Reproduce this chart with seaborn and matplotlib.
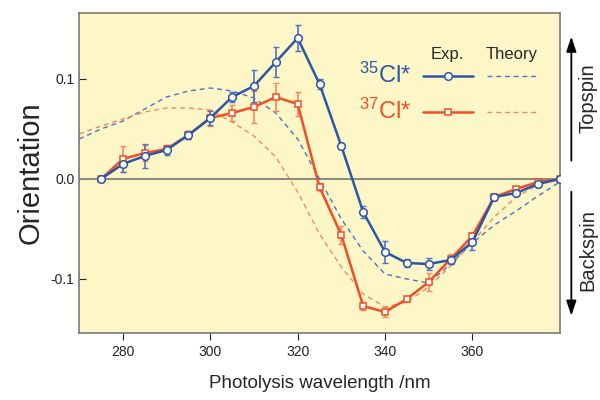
import numpy as np
import pandas as pd
import seaborn as sns
import matplotlib
matplotlib.use("Agg")
import matplotlib.pyplot as plt

# experimental wavelengths (nm)
wl_exp = [275, 280, 285, 290, 295, 300, 305, 310, 315, 320, 325, 330, 335,
          340, 345, 350, 355, 360, 365, 370, 375, 380]

# 35Cl* orientation and error
cl35 = [0.0, 0.015, 0.023, 0.029, 0.044, 0.061, 0.082, 0.093, 0.117, 0.141, 0.095, 0.033,
        -0.033, -0.073, -0.084, -0.085, -0.081, -0.063, -0.018, -0.014, -0.005, 0.0]
cl35_err = [0.0, 0.008, 0.012, 0.005, 0.004, 0.007, 0.005, 0.016, 0.015, 0.013, 0.005, 0.003,
            0.006, 0.011, 0.004, 0.006, 0.004, 0.008, 0.003, 0.002, 0.003, 0.0]

# 37Cl* orientation and error
cl37 = [0.0, 0.020, 0.026, 0.030, 0.044, 0.061, 0.066, 0.072, 0.082, 0.075, -0.008, -0.056,
        -0.127, -0.133, -0.120, -0.103, -0.080, -0.057, -0.018, -0.010, -0.003, 0.0]
cl37_err = [0.0, 0.013, 0.008, 0.004, 0.004, 0.008, 0.008, 0.016, 0.014, 0.012, 0.004, 0.009,
            0.004, 0.005, 0.003, 0.009, 0.005, 0.004, 0.003, 0.002, 0.002, 0.0]

# theory curves
wl_th = [270, 275, 280, 285, 290, 295, 300, 305, 310, 315, 320, 325, 330, 335,
         340, 345, 350, 355, 360, 365, 370, 375, 380]
th35 = [0.040, 0.050, 0.058, 0.070, 0.082, 0.088, 0.091, 0.088, 0.081, 0.066, 0.040, 0.000,
        -0.040, -0.072, -0.095, -0.100, -0.104, -0.085, -0.064, -0.046, -0.032, -0.017, -0.003]
th37 = [0.045, 0.053, 0.060, 0.067, 0.071, 0.071, 0.069, 0.057, 0.043, 0.022, -0.013, -0.055,
        -0.088, -0.115, -0.128, -0.123, -0.108, -0.087, -0.063, -0.038, -0.018, -0.006, 0.0]

blue = "#2c56a8"
red = "#f04f26"
blue_th = "#4f72c4"
red_th = "#f7875f"
dash = (0, (3.5, 2.8))

sns.set_style("ticks")
plt.rcParams['font.family'] = ['Liberation Sans', 'DejaVu Sans']
plt.rcParams['mathtext.default'] = 'regular'

exp = pd.DataFrame({'wl': wl_exp, 'cl35': cl35, 'cl37': cl37})
th = pd.DataFrame({'wl': wl_th, 'th35': th35, 'th37': th37})

fig = plt.figure(figsize=(6, 4), dpi=100)
ax = fig.add_axes([0.132, 0.1675, 0.801, 0.80])
ax.set_facecolor("#fdf6c6")

ax.axhline(0, color="#8a8a78", lw=1.4, zorder=1)

sns.lineplot(data=th, x='wl', y='th35', ax=ax, color=blue_th, lw=1.0, zorder=2)
sns.lineplot(data=th, x='wl', y='th37', ax=ax, color=red_th, lw=1.0, zorder=2)
for ln in ax.lines[1:]:
    ln.set_linestyle(dash)

ax.errorbar(wl_exp, cl37, yerr=cl37_err, fmt='none', ecolor=red_th, elinewidth=1.2, capsize=2, zorder=3)
ax.errorbar(wl_exp, cl35, yerr=cl35_err, fmt='none', ecolor=blue_th, elinewidth=1.2, capsize=2, zorder=3)
sns.lineplot(data=exp, x='wl', y='cl37', ax=ax, color=red, lw=1.8, marker='s', markersize=5,
             markerfacecolor='white', markeredgecolor=red, markeredgewidth=1.1, zorder=4)
sns.lineplot(data=exp, x='wl', y='cl35', ax=ax, color=blue, lw=1.8, marker='o', markersize=5.5,
             markerfacecolor='white', markeredgecolor=blue, markeredgewidth=1.1, zorder=5)

ax.set_xlim(270, 380)
ax.set_ylim(-0.154, 0.166)
ax.set_xticks([280, 300, 320, 340, 360])
ax.set_yticks([-0.1, 0.0, 0.1])
ax.set_yticklabels(['-0.1', '0.0', '0.1'])
ax.tick_params(axis='y', direction='in', length=5, labelsize=10, colors='#222222')
ax.tick_params(axis='x', direction='out', length=5, labelsize=10, colors='#222222')
for s in ax.spines.values():
    s.set_color('#7a7a70')
    s.set_linewidth(1.2)
    s.set_visible(True)

ax.set_xlabel("Photolysis wavelength /nm", fontsize=13.5, labelpad=12)
ax.set_ylabel("Orientation", fontsize=21, labelpad=4)

# legend block
ax.text(0.765, 0.869, "Exp.", transform=ax.transAxes, ha='center', va='center', fontsize=12)
ax.text(0.900, 0.869, "Theory", transform=ax.transAxes, ha='center', va='center', fontsize=12)
ax.text(0.692, 0.806, r"$^{35}$Cl*", transform=ax.transAxes, ha='right', va='center',
        fontsize=17, color=blue)
ax.text(0.692, 0.694, r"$^{37}$Cl*", transform=ax.transAxes, ha='right', va='center',
        fontsize=17, color=red)
ax.plot([0.715, 0.819], [0.803, 0.803], transform=ax.transAxes, color=blue, lw=1.8)
ax.plot([0.767], [0.803], transform=ax.transAxes, marker='o', ms=5.5, mfc='white', mec=blue, mew=1.1)
ax.plot([0.848, 0.954], [0.803, 0.803], transform=ax.transAxes, color=blue_th, lw=1.0, ls=dash)
ax.plot([0.715, 0.819], [0.691, 0.691], transform=ax.transAxes, color=red, lw=1.8)
ax.plot([0.767], [0.691], transform=ax.transAxes, marker='s', ms=5, mfc='white', mec=red, mew=1.1)
ax.plot([0.848, 0.954], [0.691, 0.691], transform=ax.transAxes, color=red_th, lw=1.0, ls=dash)

# topspin / backspin arrows
arrow = dict(arrowstyle='-|>,head_length=0.9,head_width=0.3', color='black', lw=1.3)
ax.annotate('', xy=(1.024, 0.935), xytext=(1.024, 0.53), xycoords='axes fraction',
            arrowprops=arrow, annotation_clip=False)
ax.annotate('', xy=(1.024, 0.045), xytext=(1.024, 0.45), xycoords='axes fraction',
            arrowprops=arrow, annotation_clip=False)
ax.text(1.058, 0.735, "Topspin", transform=ax.transAxes, rotation=90, ha='center', va='center',
        fontsize=14.5)
ax.text(1.058, 0.26, "Backspin", transform=ax.transAxes, rotation=90, ha='center', va='center',
        fontsize=14.5)

fig.savefig("out.png", dpi=100)
